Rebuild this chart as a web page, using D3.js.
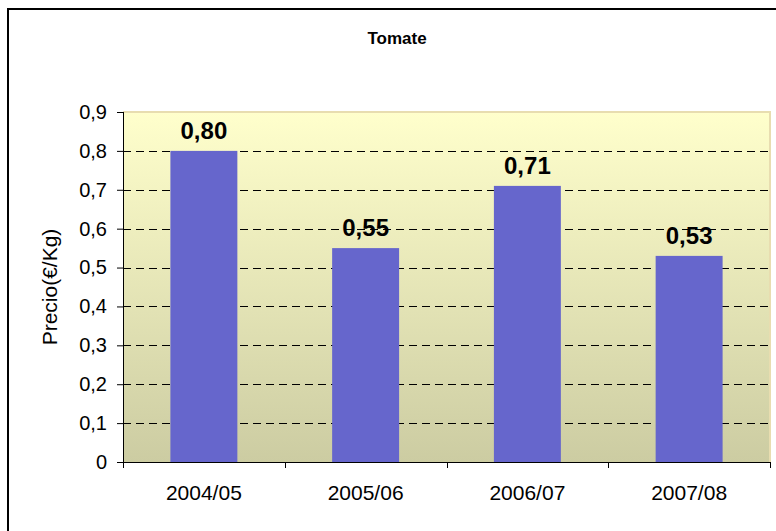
<!DOCTYPE html>
<html><head><meta charset="utf-8">
<script src="https://cdn.jsdelivr.net/npm/d3@7"></script>
<style>body{margin:0;background:#fff}svg{display:block}text{font-family:"Liberation Sans",Arial,sans-serif}</style>
</head><body>
<svg id="c" width="776" height="531"></svg>
<script>
const categories = ["2004/05","2005/06","2006/07","2007/08"];
const values = [0.80,0.55,0.71,0.53];
const yTicks = [0,0.1,0.2,0.3,0.4,0.5,0.6,0.7,0.8,0.9];
const title = "Tomate";
const yTitle = "Precio(€/Kg)";

const svg = d3.select("#c");
const L=123, R=770, T=112, B=462;
const fmt = v => v===0 ? "0" : d3.format(".1f")(v).replace(".",",");

// outer border
svg.append("rect").attr("x",8).attr("y",9).attr("width",900).attr("height",700)
  .attr("fill","none").attr("stroke","#000").attr("stroke-width",2);

const defs = svg.append("defs");
const g = defs.append("linearGradient").attr("id","bg").attr("x1",0).attr("y1",0).attr("x2",0).attr("y2",1);
g.append("stop").attr("offset","0%").attr("stop-color","#FFFFCC");
g.append("stop").attr("offset","100%").attr("stop-color","#CCCCA2");

const x = d3.scaleBand().domain(categories).range([L,R]);
const y = d3.scaleLinear().domain([0,0.9]).range([B,T]);

svg.append("rect").attr("x",L).attr("y",T).attr("width",R-L).attr("height",B-T).attr("fill","url(#bg)");
svg.append("path").attr("d",`M${L},${T}H${R}V${B}`).attr("fill","none").attr("stroke","#E8DDB0").attr("stroke-width",2);

// gridlines
svg.append("g").selectAll("line").data(yTicks.filter(t=>t>0&&t<0.9)).join("line")
  .attr("x1",L).attr("x2",R).attr("y1",d=>Math.round(y(d))+0.5).attr("y2",d=>Math.round(y(d))+0.5)
  .attr("stroke","#000").attr("stroke-dasharray","8,5");

// bars
const bw = x.bandwidth()*0.414;
svg.append("g").selectAll("rect").data(values).join("rect")
  .attr("x",(d,i)=>x(categories[i])+x.bandwidth()/2-bw/2)
  .attr("width",bw)
  .attr("y",d=>y(d)).attr("height",d=>B-y(d))
  .attr("fill","#6666CC");

// data labels
svg.append("g").selectAll("text").data(values).join("text")
  .attr("x",(d,i)=>x(categories[i])+x.bandwidth()/2)
  .attr("y",d=>y(d)-12)
  .attr("text-anchor","middle").attr("font-weight","bold").attr("font-size",24)
  .text(d=>d3.format(".2f")(d).replace(".",","));

// y axis
const ya = svg.append("g").attr("transform",`translate(${L},0)`)
  .call(d3.axisLeft(y).tickValues(yTicks).tickSize(6).tickPadding(10).tickFormat(fmt));
ya.select(".domain").attr("stroke","#000").attr("d",`M0.5,${T}V${B}`);
ya.selectAll("text").attr("font-size",20).attr("fill","#000").attr("font-family","Liberation Sans, Arial, sans-serif");

// x axis
const xa = svg.append("g").attr("transform",`translate(0,${B})`);
xa.append("line").attr("x1",L).attr("x2",R).attr("y1",0.5).attr("y2",0.5).attr("stroke","#000");
xa.selectAll("line.tk").data(d3.range(categories.length+1)).join("line").attr("class","tk")
  .attr("x1",i=>Math.round(L+i*x.step())+0.5).attr("x2",i=>Math.round(L+i*x.step())+0.5)
  .attr("y1",0).attr("y2",6).attr("stroke","#000");
xa.selectAll("text").data(categories).join("text")
  .attr("x",d=>x(d)+x.bandwidth()/2).attr("y",38).attr("text-anchor","middle")
  .attr("font-size",21).text(d=>d);

// titles
svg.append("text").attr("x",397).attr("y",44).attr("text-anchor","middle")
  .attr("font-weight","bold").attr("font-size",17).text(title);
svg.append("text").attr("transform",`translate(57,287) rotate(-90)`)
  .attr("text-anchor","middle").attr("font-size",21).text(yTitle);
</script>
</body></html>
